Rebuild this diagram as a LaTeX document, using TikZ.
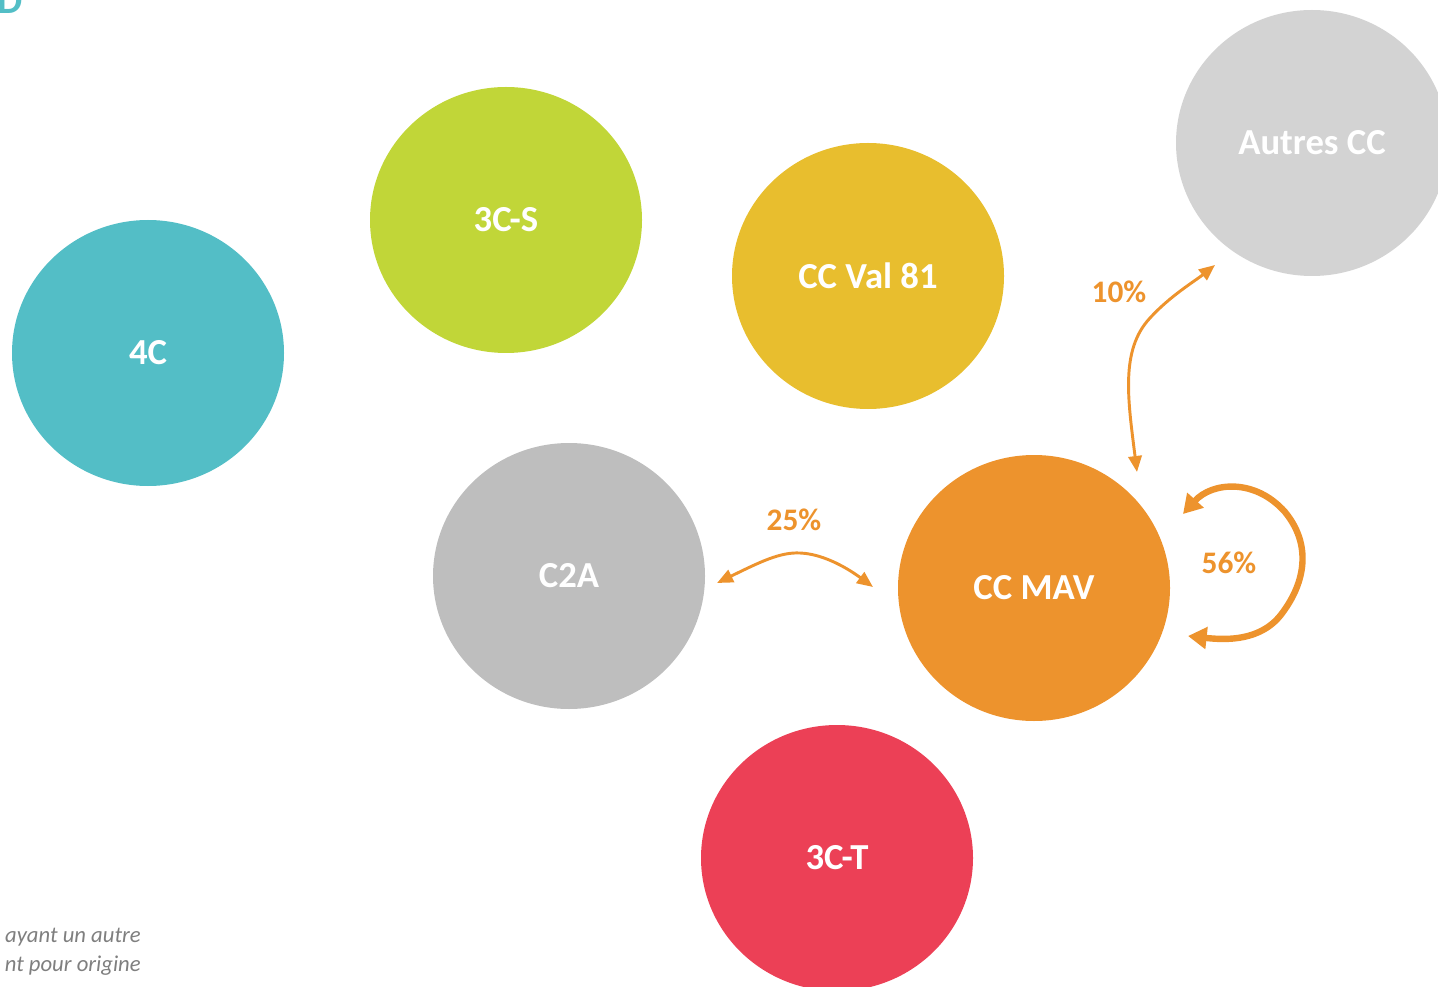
\documentclass[tikz,border=0pt]{standalone}
\usepackage{fontspec}
\setmainfont{Carlito}
\usetikzlibrary{shapes.geometric,arrows.meta}
\definecolor{teal4c}{HTML}{53BEC6}
\definecolor{lime3cs}{HTML}{C1D638}
\definecolor{yelval}{HTML}{E8BE2E}
\definecolor{greyautre}{HTML}{D3D3D3}
\definecolor{greyc2a}{HTML}{BEBEBE}
\definecolor{orangemav}{HTML}{ED932D}
\definecolor{red3ct}{HTML}{EC4056}
\definecolor{notegrey}{HTML}{7F7F7F}
\begin{document}
\begin{tikzpicture}[x=0.75pt,y=-0.75pt,
  blob/.style={ellipse,draw=none,inner sep=0pt,minimum width=204pt,minimum height=199.5pt,text=white,font=\fontsize{27.5}{30}\selectfont\bfseries},
  pct/.style={text=orangemav,font=\fontsize{23.5}{26}\selectfont\bfseries,inner sep=0pt},
  flow/.style={draw=orangemav,line width=2.2pt,{Triangle[length=12pt,width=10pt]}-{Triangle[length=12pt,width=10pt]}},
  bigflow/.style={draw=orangemav,line width=4.8pt,{Triangle[length=14pt,width=16pt]}-{Triangle[length=14pt,width=16pt]}},
  note/.style={anchor=base east,inner sep=0pt,text=notegrey,font=\fontsize{17}{19}\selectfont\itshape}]
\useasboundingbox (0,0) rectangle (1438,987);
\clip (0,0) rectangle (1438,987);
% nodes
\node[blob,fill=teal4c] (c4c) at (148,353) {4C};
\node[blob,fill=lime3cs] (c3cs) at (506,220) {3C-S};
\node[blob,fill=yelval] (val) at (868,276) {CC Val 81};
\node[blob,fill=greyautre] (autres) at (1312,143) {Autres CC};
\node[blob,fill=greyc2a] (c2a) at (569,576) {C2A};
\node[blob,fill=orangemav] (mav) at (1034,588) {CC MAV};
\node[blob,fill=red3ct] (c3ct) at (837,858) {3C-T};
% fragments
\node[anchor=base west,inner sep=0pt,text=teal4c,font=\fontsize{30}{32}\selectfont\bfseries] (dfrag) at (-3,14) {D};
\node[note] (note1) at (141,942) {ayant un autre};
\node[note] (note2) at (141,971) {nt pour origine};
% connector end points
\coordinate (mavtop) at (1137,472);
\coordinate (autresbot) at (1215,265);
\coordinate (c2aright) at (717,583);
\coordinate (mavleft) at (873,587);
\coordinate (mavr1) at (1183,514);
\coordinate (mavr2) at (1188,636);
% connectors
\draw[flow] (mavtop) .. controls (1128,400) and (1120,350) .. (1150,318) .. controls (1170,296) and (1195,281) .. (autresbot);
\draw[flow] (c2aright) .. controls (760,562) and (780,552) .. (800,553) .. controls (825,554) and (850,570) .. (mavleft);
\draw[bigflow] (mavr1) .. controls (1212,482) and (1255,478) .. (1285,512) .. controls (1312,545) and (1305,582) .. (1283,612) .. controls (1262,642) and (1225,640) .. (mavr2);
% labels
\node[pct] (p10) at (1119,292) {10\%};
\node[pct] (p25) at (794,520) {25\%};
\node[pct] (p56) at (1229,563) {56\%};
\end{tikzpicture}
\end{document}
